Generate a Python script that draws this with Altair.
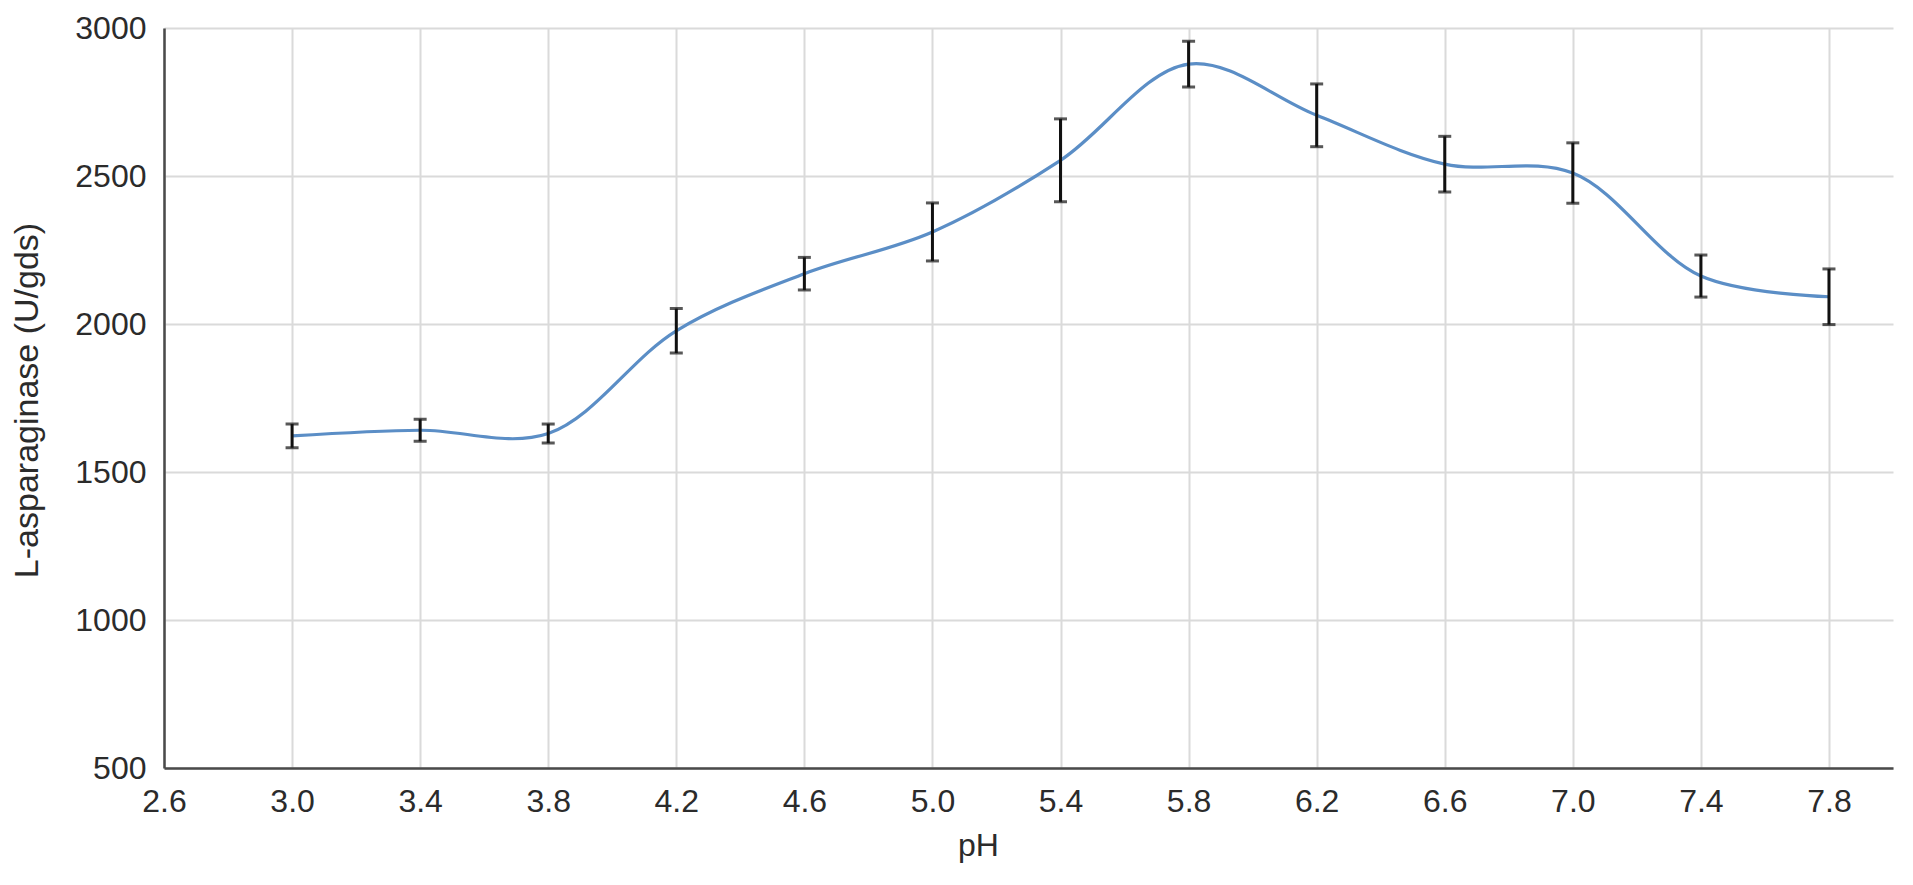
import altair as alt
import pandas as pd

ph = [3.0, 3.4, 3.8, 4.2, 4.6, 5.0, 5.4, 5.8, 6.2, 6.6, 7.0, 7.4, 7.8]
activity = [1622, 1641, 1630, 1977, 2170, 2311, 2553, 2878, 2705, 2540, 2510, 2162, 2092]
err = [40, 37, 32, 75, 55, 98, 140, 77, 106, 94, 102, 71, 94]
x_ticks = [2.6, 3.0, 3.4, 3.8, 4.2, 4.6, 5.0, 5.4, 5.8, 6.2, 6.6, 7.0, 7.4, 7.8]
y_ticks = [500, 1000, 1500, 2000, 2500, 3000]

df = pd.DataFrame({"pH": ph, "act": activity, "err": err})
df["low"] = df["act"] - df["err"]
df["high"] = df["act"] + df["err"]

FONT = "Liberation Sans"

x_enc = alt.X(
    "pH:Q",
    scale=alt.Scale(domain=[2.6, 8.0], nice=False, zero=False),
    axis=alt.Axis(
        values=x_ticks, format=".1f", title="pH",
        ticks=True, tickSize=0, labelPadding=18, labelFlush=False,
        titleX=814, titleY=87, titleBaseline="alphabetic", titleAlign="center",
        titleFontSize=32,
        gridColor="#dadada", gridWidth=2,
        domainColor="#4a4a4a", domainWidth=2.5,
    ),
)
y_scale = alt.Scale(domain=[500, 3000], nice=False, zero=False)
y_axis = alt.Axis(
    values=y_ticks, format="d", title="L-asparaginase (U/gds)",
    ticks=True, tickSize=0, labelPadding=18, labelFlush=False,
    titleX=-127, titleY=372, titleAngle=270, titleBaseline="alphabetic", titleAlign="center",
    titleFontSize=34,
    gridColor="#dadada", gridWidth=2,
    domainColor="#4a4a4a", domainWidth=2.5,
)

line = alt.Chart(df).mark_line(
    interpolate="catmull-rom", color="#5b8ec6", strokeWidth=3.2
).encode(x=x_enc, y=alt.Y("act:Q", scale=y_scale, axis=y_axis))

rules = alt.Chart(df).mark_rule(color="#111111", strokeWidth=3).encode(
    x="pH:Q", y=alt.Y("low:Q", scale=y_scale), y2="high:Q"
)
caps_top = alt.Chart(df).mark_tick(
    color="#111111", orient="horizontal", size=13, thickness=3
).encode(x="pH:Q", y=alt.Y("high:Q", scale=y_scale))
caps_bot = alt.Chart(df).mark_tick(
    color="#111111", orient="horizontal", size=13, thickness=3
).encode(x="pH:Q", y=alt.Y("low:Q", scale=y_scale))

chart = (
    alt.layer(line, rules, caps_top, caps_bot)
    .properties(
        width=1729, height=740,
        autosize=alt.AutoSizeParams(type="none"),
        padding={"left": 156, "top": 20, "right": 10, "bottom": 115},
    )
    .configure_view(stroke=None)
    .configure_axis(
        labelFont=FONT, labelFontSize=32, labelColor="#2b2b2b",
        titleFont=FONT, titleFontWeight="normal", titleColor="#2b2b2b",
    )
    .configure_axisX(grid=True)
    .configure_axisY(grid=True)
)

chart.save("out.html", embed_options={"renderer": "svg", "actions": False})
